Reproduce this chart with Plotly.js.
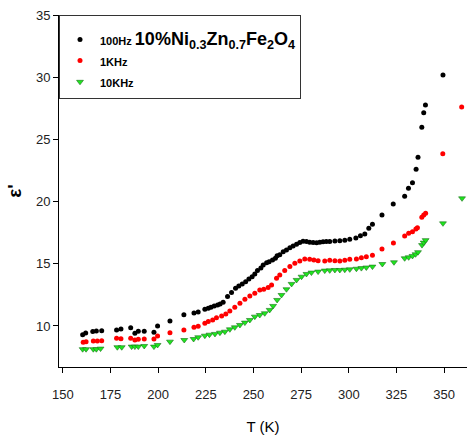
<!DOCTYPE html>
<html>
<head>
<meta charset="utf-8">
<script src="https://cdn.plot.ly/plotly-3.0.1.min.js"></script>
<style>html,body{margin:0;padding:0;background:#fff;}#chart{width:467px;height:439px;}</style>
</head>
<body>
<div id="chart"></div>
<script>
// Temperature (K) and dielectric constant readings
const T100 = [160.4,162.0,165.7,167.6,170.4,178.2,180.5,185.6,187.8,189.6,192.7,197.8,199.7,206.2,213.5,218.8,221.0,224.5,226.3,227.7,229.4,231.2,232.5,234.1,236.4,238.5,240.6,242.3,244.1,245.9,247.6,249.3,250.7,252.1,253.9,255.1,256.9,258.2,260.0,261.5,262.4,263.8,265.6,267.3,269.1,270.8,272.6,274.3,276.0,277.8,279.5,281.3,283.1,284.8,286.5,288.2,290.0,292.7,295.3,297.9,300.5,303.7,306.1,308.4,310.5,312.4,317.4,323.3,329.3,331.3,333.4,335.3,336.3,338.3,339.3,340.2,349.4];
const E100 = [9.30,9.44,9.55,9.60,9.62,9.68,9.76,9.86,9.41,9.58,9.57,9.49,10.00,10.40,10.90,11.05,11.13,11.34,11.42,11.50,11.60,11.69,11.77,11.90,12.36,12.68,13.03,13.22,13.38,13.56,13.78,13.96,14.18,14.45,14.66,14.90,15.09,15.17,15.30,15.45,15.65,15.72,15.97,16.10,16.29,16.43,16.57,16.70,16.80,16.78,16.73,16.70,16.68,16.72,16.76,16.78,16.78,16.83,16.86,16.90,16.98,17.07,17.26,17.40,17.85,18.17,18.92,19.80,20.43,21.08,21.52,22.60,23.56,25.97,27.15,27.77,30.18];

const T1k = [160.7,162.2,166.0,168.1,170.4,178.2,180.5,185.6,187.8,189.6,192.7,197.8,199.7,206.2,213.5,218.8,221.0,224.5,226.3,228.6,230.6,233.3,235.5,237.6,240.2,242.9,245.5,248.1,250.7,253.3,255.4,257.7,259.5,262.1,263.8,266.4,269.1,271.7,274.3,276.9,279.5,281.7,283.9,287.4,290.0,292.7,295.3,297.9,300.5,304.0,306.6,309.2,312.4,317.4,323.4,329.3,331.4,333.4,335.2,336.0,338.3,339.3,340.3,349.3,359.2];
const E1k = [8.69,8.74,8.80,8.80,8.82,9.01,8.98,9.01,8.87,8.93,8.95,8.95,9.20,9.46,9.68,9.90,9.98,10.22,10.35,10.48,10.65,10.80,10.96,11.20,11.50,11.82,12.15,12.41,12.63,12.90,12.95,13.10,13.30,13.83,14.10,14.45,14.77,15.04,15.22,15.38,15.36,15.30,15.25,15.22,15.28,15.25,15.22,15.28,15.36,15.39,15.49,15.57,15.68,16.19,16.67,17.23,17.45,17.58,17.80,17.90,18.74,18.92,19.06,23.85,27.60];

const T10k = [160.4,162.2,166.0,167.6,169.8,178.6,180.9,186.1,187.8,189.6,192.7,197.8,199.7,206.2,213.7,218.6,221.0,224.5,226.9,229.8,232.4,235.0,237.6,240.2,242.9,245.5,248.1,250.7,253.3,255.9,258.5,260.3,262.4,264.7,267.3,270.0,272.6,275.2,277.8,280.4,283.9,287.4,290.0,292.7,295.3,297.9,300.5,304.0,306.6,309.2,312.4,317.6,323.7,329.3,331.4,333.4,335.0,336.3,338.4,339.3,340.3,349.4,359.4];
const E10k = [8.13,8.13,8.13,8.13,8.18,8.29,8.29,8.34,8.34,8.34,8.39,8.34,8.47,8.74,8.87,8.95,9.09,9.22,9.30,9.36,9.46,9.54,9.73,9.89,10.08,10.27,10.48,10.75,10.88,11.02,11.29,11.61,12.09,12.49,12.95,13.38,13.70,13.96,14.18,14.29,14.37,14.45,14.47,14.50,14.50,14.52,14.55,14.60,14.65,14.70,14.77,14.98,15.12,15.44,15.52,15.63,15.76,15.93,16.50,16.70,16.90,18.25,20.26];

const seriesNames = [
  '<span style="font-size:11px">100Hz </span><span style="font-size:18px">10%Ni<sub>0.3</sub>Zn<sub>0.7</sub>Fe<sub>2</sub>O<sub>4</sub></span>',
  '<span style="font-size:11px">1KHz</span>',
  '<span style="font-size:11px">10KHz</span>'
];
const xTicks = [150,175,200,225,250,275,300,325,350];
const yTicks = [10,15,20,25,30,35];

const narrow = '"Liberation Sans Narrow", "Arial Narrow", "Liberation Sans", Arial, sans-serif';

const traces = [
  {x: T100, y: E100, name: seriesNames[0], mode: 'markers', type: 'scatter',
   marker: {symbol: 'circle', size: 5, color: '#000000'}},
  {x: T1k, y: E1k, name: seriesNames[1], mode: 'markers', type: 'scatter',
   marker: {symbol: 'circle', size: 5, color: '#ff0000'}},
  {x: T10k, y: E10k, name: seriesNames[2], mode: 'markers', type: 'scatter',
   marker: {symbol: 'triangle-down', size: 6, color: '#1ee61e', line: {color: '#1a6e1a', width: 0.6}}}
];

const layout = {
  width: 467, height: 439,
  margin: {l: 59, r: 0, t: 15, b: 72},
  paper_bgcolor: '#ffffff', plot_bgcolor: '#ffffff',
  showlegend: true,
  font: {family: '"Liberation Sans", Arial, sans-serif', color: '#000'},
  legend: {
    x: 0, y: 1, xanchor: 'left', yanchor: 'top',
    bgcolor: '#ffffff', bordercolor: '#333333', borderwidth: 1,
    font: {size: 14, weight: 'bold', color: '#000'},
    title: {text: ' ', font: {size: 6}},
    itemclick: false
  },
  xaxis: {
    range: [148, 362], tickvals: xTicks, ticktext: xTicks.map(String),
    showgrid: false, zeroline: false, showline: true, linecolor: '#000', linewidth: 1,
    ticks: 'outside', ticklen: 5, tickcolor: '#000', tickwidth: 1,
    tickfont: {family: narrow, size: 13, color: '#222'},
    ticklabelstandoff: 10,
    title: {text: 'T (K)', font: {family: '"Liberation Sans", Arial, sans-serif', size: 15, color: '#000'}, standoff: 20}
  },
  yaxis: {
    range: [6.7, 35], tickvals: yTicks, ticktext: yTicks.map(String),
    showgrid: false, zeroline: false, showline: true, linecolor: '#000', linewidth: 1,
    ticks: 'outside', ticklen: 5, tickcolor: '#000', tickwidth: 1,
    tickfont: {family: narrow, size: 13, color: '#222'},
    title: {text: "ε'", font: {family: '"Liberation Sans", Arial, sans-serif', size: 19, weight: 'bold', color: '#000'}, standoff: 9}
  }
};

Plotly.newPlot('chart', traces, layout, {displayModeBar: false, staticPlot: true});
</script>
</body>
</html>
